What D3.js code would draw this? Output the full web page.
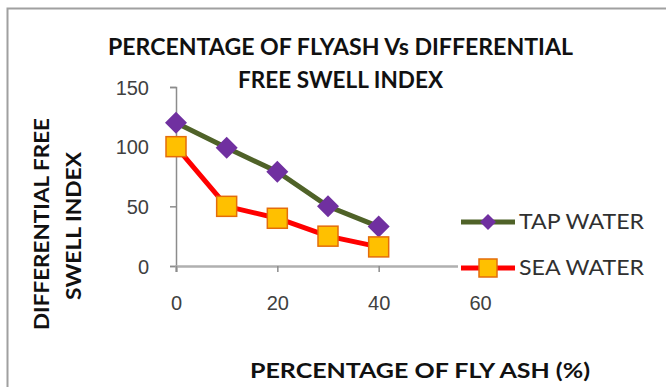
<!DOCTYPE html>
<html>
<head>
<meta charset="utf-8">
<script src="https://cdn.jsdelivr.net/npm/d3@7"></script>
<style>
  html, body { margin: 0; padding: 0; background: #fff; }
  svg { display: block; font-family: Lato, "Open Sans", sans-serif; }
</style>
</head>
<body>
<svg id="chart" width="666" height="387"></svg>
<script>
// Fly ash content (%) and differential free swell index
const flyAsh = [0, 10, 20, 30, 40];
const tapWater = [120, 99, 79, 50, 33];
const seaWater = [100, 50, 40, 25, 16];
const xTicks = [0, 20, 40, 60];
const yTicks = [0, 50, 100, 150];
const seriesNames = ["TAP WATER", "SEA WATER"];

const svg = d3.select("#chart");

// outer chart frame
svg.append("rect")
  .attr("x", 7.5).attr("y", 8.5)
  .attr("width", 700).attr("height", 400)
  .attr("fill", "#fff").attr("stroke", "#a0a0a0").attr("stroke-width", 2);

const x = d3.scaleLinear().domain([0, 60]).range([176, 480]);
const y = d3.scaleLinear().domain([0, 150]).range([266, 87]);

// y axis
const yAxis = d3.axisLeft(y).tickValues(yTicks).tickSize(6).tickPadding(20);
const gy = svg.append("g").attr("transform", "translate(176,0)").call(yAxis);
gy.select(".domain").attr("stroke", "#8c8c8c").attr("stroke-width", 1.5);
gy.selectAll(".tick line").attr("stroke", "#8c8c8c").attr("stroke-width", 1.5);
gy.selectAll(".tick text").attr("fill", "#404040").attr("font-size", 20)
  .attr("dy", "0.35em").attr("x", -27);

// x axis
const xAxis = d3.axisBottom(x).tickValues(xTicks).tickSize(6).tickPadding(24);
const gx = svg.append("g").attr("transform", "translate(0,266)").call(xAxis);
gx.select(".domain").attr("stroke", "#b0b0b0").attr("stroke-width", 2.5);
gx.selectAll(".tick line").attr("stroke", "#8c8c8c").attr("stroke-width", 1.5);
gx.selectAll(".tick text").attr("fill", "#404040").attr("font-size", 20);

const line = d3.line().x((d, i) => x(flyAsh[i])).y(d => y(d));

// legend box covers the right end of the plot area
const legend = svg.append("g");
legend.append("rect").attr("x", 458).attr("y", 200).attr("width", 196).attr("height", 88).attr("fill", "#fff");

// sea water series
svg.append("path").datum(seaWater)
  .attr("d", line).attr("fill", "none")
  .attr("stroke", "#ff0000").attr("stroke-width", 5);

// tap water series
svg.append("path").datum(tapWater)
  .attr("d", line).attr("fill", "none")
  .attr("stroke", "#4f6228").attr("stroke-width", 5);

const diamond = (cx, cy, r) => `M${cx},${cy - r}L${cx + r},${cy}L${cx},${cy + r}L${cx - r},${cy}Z`;

svg.selectAll(".tapMark").data(tapWater).enter().append("path")
  .attr("d", (d, i) => diamond(x(flyAsh[i]), y(d), 11))
  .attr("fill", "#7030a0");

svg.selectAll(".seaMark").data(seaWater).enter().append("rect")
  .attr("x", (d, i) => x(flyAsh[i]) - 10)
  .attr("y", d => y(d) - 10)
  .attr("width", 20).attr("height", 20)
  .attr("fill", "#ffc000").attr("stroke", "#e46c0a").attr("stroke-width", 1.5);

// legend entries
const legY = [222, 268];
legend.append("line").attr("x1", 461).attr("x2", 515).attr("y1", legY[0]).attr("y2", legY[0])
  .attr("stroke", "#4f6228").attr("stroke-width", 5);
legend.append("path").attr("d", diamond(488, legY[0], 8)).attr("fill", "#7030a0");
legend.append("line").attr("x1", 461).attr("x2", 515).attr("y1", legY[1]).attr("y2", legY[1])
  .attr("stroke", "#ff0000").attr("stroke-width", 5);
legend.append("rect").attr("x", 479).attr("y", legY[1] - 9).attr("width", 18).attr("height", 18)
  .attr("fill", "#ffc000").attr("stroke", "#e46c0a").attr("stroke-width", 1.5);
legend.selectAll(".legText").data(seriesNames).enter().append("text")
  .attr("x", 519).attr("y", (d, i) => legY[i] + 7)
  .attr("font-size", 21).attr("fill", "#303030")
  .attr("textLength", 125).attr("lengthAdjust", "spacingAndGlyphs")
  .text(d => d);

// chart title
const title = svg.append("g").attr("font-weight", "bold").attr("fill", "#111").attr("font-size", 23);
title.append("text").attr("x", 108).attr("y", 55)
  .attr("textLength", 465).attr("lengthAdjust", "spacingAndGlyphs")
  .text("PERCENTAGE OF FLYASH Vs DIFFERENTIAL");
title.append("text").attr("x", 238).attr("y", 88)
  .attr("textLength", 205).attr("lengthAdjust", "spacingAndGlyphs")
  .text("FREE SWELL INDEX");

// y axis title
const yt = svg.append("g").attr("font-weight", "bold").attr("fill", "#111").attr("font-size", 21);
yt.append("text").attr("transform", "translate(49,330) rotate(-90)")
  .attr("textLength", 212).attr("lengthAdjust", "spacingAndGlyphs")
  .text("DIFFERENTIAL FREE");
yt.append("text").attr("transform", "translate(81,300) rotate(-90)")
  .attr("textLength", 148).attr("lengthAdjust", "spacingAndGlyphs")
  .text("SWELL INDEX");

// x axis title
svg.append("text").attr("x", 250).attr("y", 378)
  .attr("font-weight", "bold").attr("fill", "#111").attr("font-size", 21)
  .attr("textLength", 340).attr("lengthAdjust", "spacingAndGlyphs")
  .text("PERCENTAGE OF FLY ASH (%)");
</script>
</body>
</html>
